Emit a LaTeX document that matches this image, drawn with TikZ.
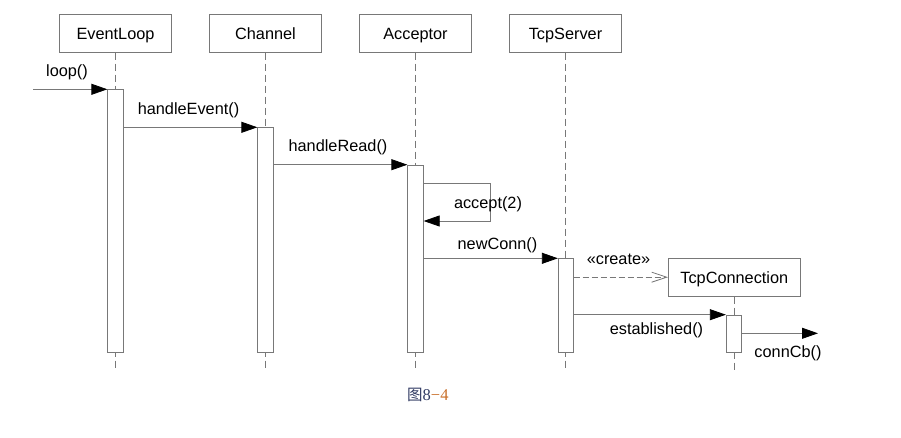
\documentclass[tikz,border=0pt]{standalone}
\usepackage{fontspec}
\setmainfont{Liberation Sans}
\newfontfamily\cjk{Noto Sans CJK SC}
\newfontfamily\capserif{Liberation Serif}
\usetikzlibrary{arrows.meta,positioning}
\definecolor{linegray}{RGB}{120,120,120}
\definecolor{capblue}{RGB}{50,60,100}
\definecolor{caporange}{RGB}{200,110,40}
\begin{document}
\begin{tikzpicture}[x=1pt,y=-1pt,
  every node/.style={font=\fontsize{16.3}{19}\selectfont},
  hdr/.style={draw=linegray,line width=0.8pt,fill=white,minimum width=112pt,minimum height=38pt,inner sep=0pt,text height=13.6pt,text depth=2pt},
  act/.style={draw=linegray,line width=0.8pt,fill=white,minimum width=15.5pt,inner sep=0pt,anchor=north},
  life/.style={draw=linegray,line width=0.8pt,dash pattern=on 7pt off 4pt},
  msg/.style={draw=linegray,line width=0.8pt,-{Triangle[length=16pt,width=11pt,fill=black,color=black]}},
  createmsg/.style={draw=linegray,line width=0.8pt,dash pattern=on 6pt off 3pt,-{Straight Barb[length=15pt,width=10pt,color=linegray]}},
  lbl/.style={inner sep=0pt}]
\useasboundingbox (0,0) rectangle (901,438);
% headers
\node[hdr] (el) at (115.5,33.3) {EventLoop};
\node[hdr] (ch) at (265.5,33.3) {Channel};
\node[hdr] (ac) at (415.5,33.3) {Acceptor};
\node[hdr] (ts) at (565.5,33.3) {TcpServer};
% lifeline ends
\coordinate (elE) at (115.5,370);
\coordinate (chE) at (265.5,370);
\coordinate (acE) at (415.5,370);
\coordinate (tsE) at (565.5,370);
\coordinate (tcE) at (734.3,370);
\draw[life] (el.south) -- (elE);
\draw[life] (ch.south) -- (chE);
\draw[life] (ac.south) -- (acE);
\draw[life] (ts.south) -- (tsE);
% TcpConnection
\node[hdr,minimum width=132pt] (tc) at (734.3,277.2) {TcpConnection};
\draw[life] (tc.south) -- (tcE);
% activations
\node[act,minimum height=263pt] (a1) at (115.5,89.3) {};
\node[act,minimum height=225pt] (a2) at (265.5,127.3) {};
\node[act,minimum height=187.6pt] (a3) at (415.5,164.7) {};
\node[act,minimum height=94pt,minimum width=15pt] (a4) at (565.8,258.3) {};
\node[act,minimum height=37.6pt] (a5) at (734,314.7) {};
% messages
\coordinate (start) at (33,89.3);
\draw[msg] (start) -- (a1.north west);
\node[lbl] (l1) at (67,72) {loop()};
\draw[msg] (a1.east |- a2.north) -- (a2.north west);
\node[lbl] (l2) at (188.5,110) {handleEvent()};
\draw[msg] (a2.east |- a3.north) -- (a3.north west);
\node[lbl] (l3) at (338,147.5) {handleRead()};
\coordinate (sc1) at (490.3,183.3);
\coordinate (sc2) at (490.3,221);
\draw[msg] (a3.east |- sc1) -- (sc1) -- (sc2) -- (a3.east |- sc2);
\node[lbl] (l4) at (488,204.5) {accept(2)};
\draw[msg] (a3.east |- a4.north) -- (a4.north west);
\node[lbl] (l5) at (497.5,245) {newConn()};
\draw[createmsg] (a4.east |- tc.west) -- (tc.west);
\node[lbl] (l6) at (618.5,259) {«create»};
\draw[msg] (a4.east |- a5.north) -- (a5.north west);
\node[lbl] (l7) at (656.5,330) {established()};
\coordinate (cbE) at (818,333.3);
\draw[msg] (a5.east |- cbE) -- (cbE);
\node[lbl] (l8) at (788,353.5) {connCb()};
% caption
\node[lbl,anchor=west] (cap) at (407,395) {{\fontsize{15.5}{18}\selectfont\cjk\color{capblue}图}{\fontsize{16.5}{18}\selectfont\capserif\color{capblue}8}{\fontsize{16.5}{18}\selectfont\capserif\color{caporange}−4}};
\end{tikzpicture}
\end{document}
